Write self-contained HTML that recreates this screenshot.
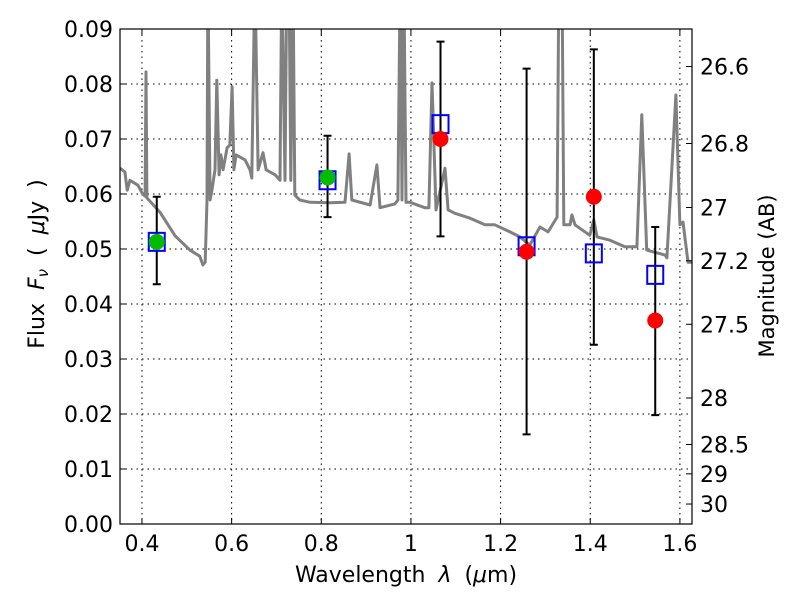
<!DOCTYPE html>
<html><head><meta charset="utf-8"><style>
html,body{margin:0;padding:0;background:#fff;}
svg text{font-family:"DejaVu Sans","Liberation Sans",sans-serif;fill:#000;}
</style></head><body>
<svg id="chart" width="800" height="600" viewBox="0 0 800 600" xmlns="http://www.w3.org/2000/svg">
<g id="grid"></g>
<g id="spec"></g>
<g id="marks"></g>
<rect x="120" y="29" width="572" height="495" fill="none" stroke="#000" stroke-width="1.2"/>
<g id="axes"></g>
<text x="406" y="582" font-size="22" text-anchor="middle" style="word-spacing:6px">Wavelength  <tspan font-style="italic">λ</tspan> (<tspan font-style="italic">μ</tspan>m)</text>
<text transform="translate(44,264) rotate(-90)" font-size="22" text-anchor="middle" style="word-spacing:6px">Flux  <tspan font-style="italic">F</tspan><tspan font-style="italic" font-size="15" dy="4">ν</tspan><tspan dy="-4">  (  <tspan font-style="italic">μ</tspan>Jy )</tspan></text>
<text transform="translate(774,276) rotate(-90)" font-size="21" text-anchor="middle">Magnitude (AB)</text>
</svg>
<script>
const xTicks=[0.4,0.6,0.8,1.0,1.2,1.4,1.6];
const xTickLabels=["0.4","0.6","0.8","1","1.2","1.4","1.6"];
const yTicks=[0,0.01,0.02,0.03,0.04,0.05,0.06,0.07,0.08,0.09];
const magTicks=[26.6,26.8,27,27.2,27.5,28,28.5,29,30];
const specWave=[0.351,0.362,0.367,0.373,0.391,0.400,0.407,0.409,0.411,0.440,0.474,0.507,0.529,0.536,0.541,0.545,0.547,0.552,0.556,0.563,0.567,0.572,0.576,0.581,0.585,0.590,0.596,0.601,0.605,0.610,0.630,0.641,0.645,0.652,0.659,0.670,0.677,0.697,0.708,0.712,0.719,0.723,0.728,0.732,0.737,0.741,0.752,0.775,0.819,0.853,0.862,0.868,0.909,0.924,0.931,0.964,0.971,0.976,0.980,0.984,0.989,0.998,1.031,1.040,1.047,1.056,1.076,1.083,1.098,1.132,1.165,1.187,1.221,1.243,1.265,1.288,1.306,1.326,1.330,1.337,1.341,1.355,1.359,1.366,1.399,1.408,1.415,1.444,1.477,1.504,1.515,1.526,1.567,1.571,1.591,1.600,1.607,1.618,1.627];
const specFlux=[0.0647,0.0640,0.0607,0.0625,0.0616,0.0602,0.0596,0.0822,0.0593,0.0567,0.0524,0.0498,0.0487,0.0471,0.0476,0.0589,0.1,0.0589,0.0607,0.0644,0.0807,0.0635,0.0671,0.0644,0.0662,0.0684,0.0689,0.0795,0.0644,0.0671,0.0662,0.0644,0.0629,0.1,0.0644,0.0675,0.0644,0.0635,0.0625,0.1,0.0625,0.1,0.1,0.0625,0.1,0.0598,0.0589,0.0585,0.0584,0.0585,0.0673,0.0589,0.0580,0.0653,0.0575,0.0582,0.0589,0.1,0.0589,0.1,0.0585,0.0585,0.0575,0.0575,0.0802,0.0571,0.0647,0.0571,0.0565,0.0556,0.0544,0.0544,0.0531,0.0522,0.0507,0.0540,0.0531,0.0558,0.1,0.1,0.0544,0.0544,0.0562,0.0544,0.0525,0.0553,0.0522,0.0516,0.0504,0.0504,0.0744,0.0498,0.0489,0.0484,0.0780,0.0544,0.0549,0.0476,0.0476];
const bandWave=[0.433,0.814,1.066,1.258,1.408,1.545];
const modelFlux=[0.0513,0.0625,0.0727,0.0505,0.0492,0.0453];
const errLow=[0.0436,0.0558,0.0523,0.0163,0.0326,0.0198];
const errHigh=[0.0595,0.0706,0.0877,0.0828,0.0863,0.0540];
const greenWave=[0.433,0.814];
const greenFlux=[0.0513,0.0630];
const redWave=[1.066,1.258,1.408,1.545];
const redFlux=[0.0700,0.0495,0.0595,0.0370];

const NS="http://www.w3.org/2000/svg";
const X0=120,X1=692,Y0=524,Y1=29,XMIN=0.351,XMAX=1.627,YMIN=0,YMAX=0.09;
function xs(v){return X0+(v-XMIN)/(XMAX-XMIN)*(X1-X0);}
function ys(v){return Y0-(v-YMIN)/(YMAX-YMIN)*(Y0-Y1);}
function mk(tag,attrs,parent){const e=document.createElementNS(NS,tag);for(const k in attrs)e.setAttribute(k,attrs[k]);parent.appendChild(e);return e;}
const grid=document.getElementById('grid'),axes=document.getElementById('axes'),spec=document.getElementById('spec'),marks=document.getElementById('marks');

xTicks.forEach((t,i)=>{const x=xs(t);
 const g=mk('line',{x1:x,x2:x,y1:Y1,y2:Y0,stroke:'#000','stroke-dasharray':'1.5,4','stroke-width':1},grid);
 
 mk('line',{x1:x,x2:x,y1:Y0,y2:Y0-6,stroke:'#000'},axes);
 mk('line',{x1:x,x2:x,y1:Y1,y2:Y1+6,stroke:'#000'},axes);
 const tx=mk('text',{x:x,y:Y0+27,'font-size':22,'text-anchor':'middle'},axes);tx.textContent=xTickLabels[i];
 
});
yTicks.forEach(t=>{const y=ys(t);
 const g=mk('line',{x1:X0,x2:X1,y1:y,y2:y,stroke:'#000','stroke-dasharray':'1.5,4','stroke-width':1},grid);
 
 mk('line',{x1:X0,x2:X0+6,y1:y,y2:y,stroke:'#000'},axes);
 const tx=mk('text',{x:X0-7,y:y+8,'font-size':22,'text-anchor':'end'},axes);tx.textContent=t.toFixed(2);
 
});
magTicks.forEach(m=>{const f=Math.pow(10,(23.9-m)/2.5);const y=ys(f);
 mk('line',{x1:X1,x2:X1-6,y1:y,y2:y,stroke:'#000'},axes);
 const tx=mk('text',{x:X1+8,y:y+8,'font-size':22},axes);tx.textContent=String(m);
 
});

const clip=mk('clipPath',{id:'pc'},document.getElementById('chart'));
mk('rect',{x:X0,y:Y1,width:X1-X0,height:Y0-Y1},clip);
spec.setAttribute('clip-path','url(#pc)');
const d=specWave.map((w,i)=>(i?'L':'M')+xs(w).toFixed(1)+','+ys(specFlux[i]).toFixed(1)).join(' ');
const sp=mk('path',{d:d,fill:'none',stroke:'#808080','stroke-width':3,'stroke-linejoin':'round'},spec);


bandWave.forEach((w,i)=>{const x=xs(w);
 const e=mk('path',{d:`M${x},${ys(errLow[i])}V${ys(errHigh[i])}M${x-4},${ys(errLow[i])}H${x+4}M${x-4},${ys(errHigh[i])}H${x+4}`,stroke:'#000','stroke-width':2,fill:'none'},marks);
 
});
bandWave.forEach((w,i)=>{
 const r=mk('rect',{x:xs(w)-8,y:ys(modelFlux[i])-9,width:16,height:18,fill:'none',stroke:'#0000ff','stroke-width':2},marks);
 
});
greenWave.forEach((w,i)=>{
 const c=mk('circle',{cx:xs(w),cy:ys(greenFlux[i]),r:8,fill:'#00bb00'},marks);
 
});
redWave.forEach((w,i)=>{
 const c=mk('circle',{cx:xs(w),cy:ys(redFlux[i]),r:8,fill:'#ff0000'},marks);
 
});
</script>
</body></html>
